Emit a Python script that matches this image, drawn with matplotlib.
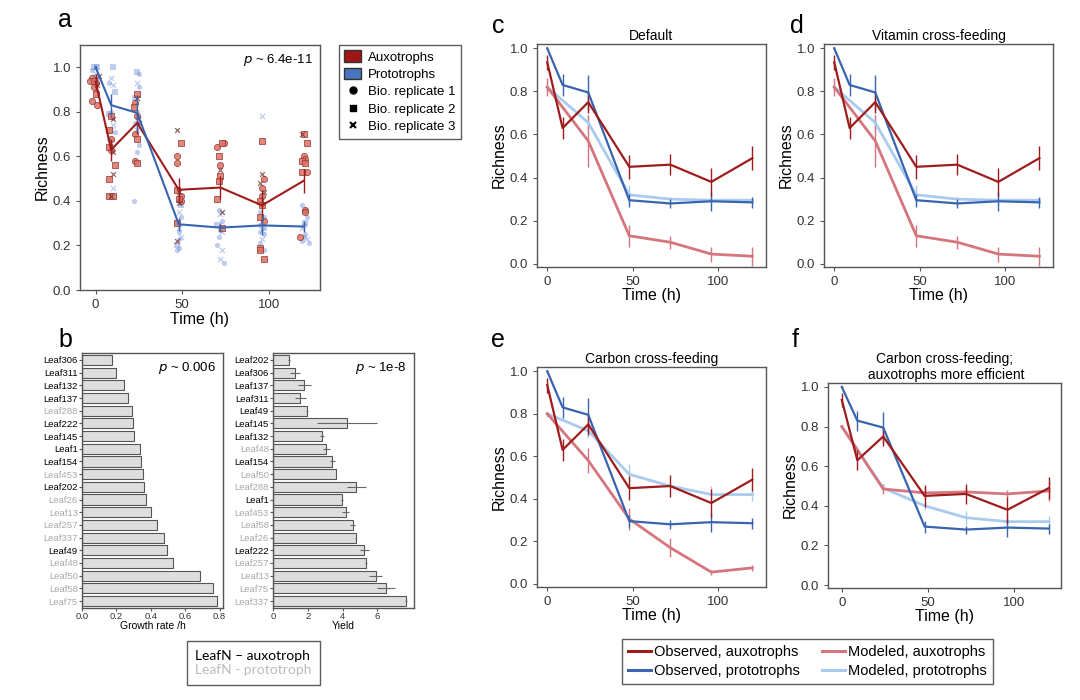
import numpy as np
import matplotlib.pyplot as plt
from matplotlib.lines import Line2D
from matplotlib.patches import Patch

plt.rcParams["font.family"] = ["Liberation Sans", "DejaVu Sans"]

# observed richness (mean +/- error) per time point
obs_time = [0, 9, 24, 48, 72, 96, 120]
obs_aux = [0.935, 0.63, 0.75, 0.45, 0.46, 0.38, 0.49]
obs_aux_err = [0.035, 0.05, 0.05, 0.055, 0.05, 0.065, 0.055]
obs_pro = [1.0, 0.83, 0.795, 0.295, 0.28, 0.29, 0.285]
obs_pro_err = [0.005, 0.05, 0.08, 0.03, 0.02, 0.045, 0.025]

# modeled richness for the four scenarios
model_time = [0, 24, 48, 72, 96, 120]
def_aux = [0.82, 0.57, 0.13, 0.10, 0.045, 0.035]
def_aux_err = [0.04, 0.12, 0.05, 0.03, 0.035, 0.045]
def_pro = [0.82, 0.655, 0.32, 0.30, 0.295, 0.295]
def_pro_err = [0.02, 0.04, 0.045, 0.01, 0.02, 0.01]
carb_aux = [0.80, 0.58, 0.305, 0.17, 0.055, 0.075]
carb_aux_err = [0.01, 0.06, 0.05, 0.045, 0.012, 0.015]
carb_pro = [0.80, 0.72, 0.515, 0.46, 0.42, 0.42]
carb_pro_err = [0.01, 0.035, 0.05, 0.01, 0.04, 0.03]
eff_aux = [0.80, 0.485, 0.465, 0.47, 0.46, 0.475]
eff_aux_err = [0.01, 0.025, 0.03, 0.02, 0.02, 0.05]
eff_pro = [0.80, 0.49, 0.40, 0.34, 0.32, 0.32]
eff_pro_err = [0.01, 0.02, 0.02, 0.035, 0.04, 0.03]

# individual samples in panel a (time incl. jitter, richness, replicate)
aux_t = [-2, -1, 0, -3, 1, 0, -2, 1, 2, -1,
         9, 10, 8, 9, 8, 9, 10, 11, 10, 8, 8, 9, 10,
         24, 24, 23, 22, 24, 25, 23, 24, 23, 24,
         47, 49, 47, 47, 47, 48, 49, 48, 49, 48, 47, 47,
         70, 73, 74, 71, 72, 72, 72, 71, 70, 73, 73,
         96, 96, 97, 95, 96, 97, 96, 95, 96, 95, 97, 95, 95, 97,
         119, 120, 122, 120, 121, 119, 121, 119, 122, 121, 121, 118]
aux_r = [0.95, 0.94, 0.93, 0.94, 0.92, 0.88, 0.85, 0.83, 0.96, 0.91,
         0.78, 0.77, 0.72, 0.68, 0.64, 0.63, 0.62, 0.56, 0.52, 0.50, 0.42, 0.42, 0.42,
         0.88, 0.86, 0.84, 0.82, 0.78, 0.75, 0.70, 0.68, 0.58, 0.57,
         0.72, 0.66, 0.60, 0.57, 0.45, 0.44, 0.42, 0.41, 0.40, 0.39, 0.30, 0.22,
         0.64, 0.66, 0.66, 0.60, 0.56, 0.54, 0.51, 0.49, 0.41, 0.35, 0.28,
         0.67, 0.52, 0.50, 0.48, 0.46, 0.44, 0.42, 0.40, 0.38, 0.33, 0.31, 0.19, 0.18, 0.14,
         0.70, 0.70, 0.66, 0.60, 0.59, 0.58, 0.57, 0.53, 0.53, 0.36, 0.35, 0.24]
aux_rep = ["o", "s", "o", "o", "x", "s", "o", "o", "x", "o",
           "s", "x", "s", "o", "s", "o", "x", "s", "x", "s", "s", "x", "s",
           "s", "x", "o", "s", "o", "x", "o", "s", "o", "s",
           "x", "s", "o", "o", "s", "x", "o", "s", "o", "x", "s", "x",
           "o", "s", "o", "s", "o", "x", "s", "s", "s", "x", "s",
           "s", "x", "o", "x", "o", "x", "o", "s", "s", "s", "o", "s", "s", "s",
           "x", "s", "s", "o", "o", "s", "s", "s", "o", "o", "o", "o"]
pro_t = [-1, 0, 1, -2, 0, -1, 1, 0,
         10, 9, 8, 10, 11, 9, 8, 10, 9, 11, 8, 9, 10,
         24, 25, 24, 25, 23, 24, 25, 23, 24, 25, 24, 22,
         48, 49, 48, 49, 47, 48, 48, 49, 48, 47, 48, 47,
         71, 72, 73, 70, 72, 73, 71, 70, 73, 72, 74,
         96, 95, 97, 96, 95, 97, 96, 95, 97, 96, 95, 97,
         119, 121, 120, 122, 121, 120, 119, 121, 120, 122, 119, 123]
pro_r = [1.0, 1.0, 1.0, 0.99, 0.97, 0.96, 0.95, 0.93,
         1.0, 0.95, 0.93, 0.92, 0.89, 0.80, 0.79, 0.74, 0.72, 0.71, 0.68, 0.66, 0.46,
         0.98, 0.97, 0.93, 0.91, 0.86, 0.80, 0.77, 0.75, 0.72, 0.65, 0.62, 0.40,
         0.41, 0.38, 0.35, 0.33, 0.30, 0.28, 0.26, 0.24, 0.23, 0.20, 0.19, 0.18,
         0.36, 0.34, 0.31, 0.29, 0.27, 0.26, 0.24, 0.20, 0.18, 0.14, 0.12,
         0.78, 0.35, 0.33, 0.31, 0.29, 0.28, 0.27, 0.26, 0.25, 0.23, 0.21, 0.18,
         0.38, 0.36, 0.35, 0.33, 0.30, 0.29, 0.28, 0.25, 0.24, 0.23, 0.22, 0.21]
pro_rep = ["s", "x", "s", "o", "x", "o", "o", "x",
           "s", "x", "o", "x", "s", "o", "s", "x", "x", "o", "o", "x", "x",
           "s", "o", "x", "o", "s", "o", "x", "o", "x", "o", "o", "o",
           "o", "s", "x", "o", "s", "x", "o", "x", "o", "s", "o", "o",
           "o", "x", "o", "s", "o", "x", "o", "o", "x", "x", "o",
           "x", "o", "o", "x", "o", "s", "x", "o", "o", "x", "o", "o",
           "o", "o", "x", "o", "s", "o", "x", "o", "o", "x", "o", "o"]

# panel b: growth rate and yield per strain
growth_strains = ["Leaf306", "Leaf311", "Leaf132", "Leaf137", "Leaf288", "Leaf222", "Leaf145",
                  "Leaf1", "Leaf154", "Leaf453", "Leaf202", "Leaf26", "Leaf13", "Leaf257",
                  "Leaf337", "Leaf49", "Leaf48", "Leaf50", "Leaf58", "Leaf75"]
growth_rate = [0.176, 0.20, 0.245, 0.27, 0.288, 0.298, 0.304, 0.34, 0.345, 0.357,
               0.363, 0.375, 0.402, 0.437, 0.476, 0.494, 0.53, 0.686, 0.76, 0.788]
yield_strains = ["Leaf202", "Leaf306", "Leaf137", "Leaf311", "Leaf49", "Leaf145", "Leaf132",
                 "Leaf48", "Leaf154", "Leaf50", "Leaf288", "Leaf1", "Leaf453", "Leaf58",
                 "Leaf26", "Leaf222", "Leaf257", "Leaf13", "Leaf75", "Leaf337"]
yield_val = [0.94, 1.26, 1.79, 1.57, 1.96, 4.25, 2.81, 3.06, 3.40, 3.64,
             4.79, 3.96, 4.19, 4.57, 4.75, 5.25, 5.36, 5.89, 6.49, 7.64]
yield_err = [0.05, 0.27, 0.37, 0.30, 0.05, 1.70, 0.10, 0.20, 0.15, 0.0,
             0.55, 0.05, 0.20, 0.15, 0.03, 0.25, 0.05, 0.35, 0.50, 0.05]
auxotrophs = ["Leaf306", "Leaf311", "Leaf132", "Leaf137", "Leaf222", "Leaf145",
              "Leaf1", "Leaf154", "Leaf202", "Leaf49"]

C_OBS_AUX = "#9e1c1c"
C_OBS_PRO = "#3864b0"
C_MOD_AUX = "#d5757d"
C_MOD_PRO = "#a9cbee"
GRAY_TXT = "#a8a8a8"

fig = plt.figure(figsize=(10.8, 7), dpi=100)


def frame(ax, labelsize=9.5):
    for s in ax.spines.values():
        s.set_color("#555555")
        s.set_linewidth(1.0)
    ax.tick_params(colors="#555555", labelcolor="#333333", length=3, width=0.8,
                   labelsize=labelsize)


# ---- a ----
ax = fig.add_axes([80 / 1080, 1 - 290 / 700, 240 / 1080, 245 / 700])
aux_t_arr, aux_r_arr, aux_rep_arr = np.array(aux_t), np.array(aux_r), np.array(aux_rep)
pro_t_arr, pro_r_arr, pro_rep_arr = np.array(pro_t), np.array(pro_r), np.array(pro_rep)
for m in ["o", "s", "x"]:
    sel = pro_rep_arr == m
    ax.scatter(pro_t_arr[sel], pro_r_arr[sel], marker=m, s=14, color="#6f8fd8",
               alpha=0.45, linewidths=0.9 if m == "x" else 0, zorder=2)
for m in ["o", "s", "x"]:
    sel = aux_rep_arr == m
    if m == "x":
        ax.scatter(aux_t_arr[sel], aux_r_arr[sel], marker="x", s=12, color="#7a3434",
                   linewidths=0.9, alpha=0.75, zorder=3)
    else:
        ax.scatter(aux_t_arr[sel], aux_r_arr[sel], marker=m, s=20, facecolor="#e0705f",
                   edgecolor="#8b3a3a", linewidths=0.6, alpha=0.85, zorder=3)
ax.errorbar(obs_time, obs_aux, yerr=obs_aux_err, color=C_OBS_AUX, lw=1.5, elinewidth=1.0, zorder=4)
ax.errorbar(obs_time, obs_pro, yerr=obs_pro_err, color=C_OBS_PRO, lw=1.5, elinewidth=1.0, zorder=4)
ax.set_xlim(-9, 129.5)
ax.set_ylim(0, 1.1)
ax.set_xticks([0, 50, 100])
ax.set_yticks(np.arange(0, 1.01, 0.2))
ax.yaxis.set_major_formatter(plt.FormatStrFormatter("%.1f"))
ax.set_xlabel("Time (h)", fontsize=11.5, labelpad=1)
ax.set_ylabel("Richness", fontsize=11.5, labelpad=2)
frame(ax)
ax.text(0.97, 0.94, r"$p$ ~ 6.4e-11", transform=ax.transAxes, ha="right", va="center", fontsize=9.5)
handles = [Patch(facecolor="#a01616", edgecolor="#333333", label="Auxotrophs"),
           Patch(facecolor="#4a74bb", edgecolor="#333333", label="Prototrophs"),
           Line2D([], [], marker="o", ls="none", color="black", markersize=5, label="Bio. replicate 1"),
           Line2D([], [], marker="s", ls="none", color="black", markersize=5, label="Bio. replicate 2"),
           Line2D([], [], marker="x", ls="none", color="black", markersize=5, mew=1.5, label="Bio. replicate 3")]
leg = fig.legend(handles=handles, loc="upper left", bbox_to_anchor=(339 / 1080, 1 - 45 / 700),
                 fontsize=9.5, frameon=True, fancybox=False, edgecolor="#333333",
                 handlelength=1.3, handleheight=1.0, handletextpad=0.5, labelspacing=0.3,
                 borderpad=0.4, borderaxespad=0)
leg.get_frame().set_linewidth(1.0)

# ---- b ----
for strains, vals, errs, xlim, ticks, fmt, xlabel, ptxt, left in [
        (growth_strains, growth_rate, None, 0.82, [0, 0.2, 0.4, 0.6, 0.8], "%.1f",
         "Growth rate /h", r"$p$ ~ 0.006", 82),
        (yield_strains, yield_val, yield_err, 8.1, [0, 2, 4, 6], "%d",
         "Yield", r"$p$ ~ 1e-8", 273)]:
    bx = fig.add_axes([left / 1080, 1 - 608 / 700, 141 / 1080, 255 / 700])
    ypos = np.arange(len(strains))
    bx.barh(ypos, vals, height=0.8, color="#dedede", edgecolor="#555555", linewidth=0.8)
    if errs is not None:
        bx.errorbar(vals, ypos, xerr=errs, fmt="none", ecolor="#666666", elinewidth=0.8)
    bx.set_xlim(0, xlim)
    bx.set_ylim(len(strains) - 0.45, -0.55)
    bx.set_yticks(ypos)
    bx.set_yticklabels(strains)
    bx.set_xticks(ticks)
    bx.xaxis.set_major_formatter(plt.FormatStrFormatter(fmt))
    frame(bx, labelsize=6.8)
    bx.tick_params(length=2, pad=1)
    for lab, s in zip(bx.get_yticklabels(), strains):
        lab.set_color("black" if s in auxotrophs else GRAY_TXT)
    bx.set_xlabel(xlabel, fontsize=7.5, labelpad=0)
    bx.text(0.95, 0.94, ptxt, transform=bx.transAxes, ha="right", va="center", fontsize=9.5)

leafn = fig.legend(handles=[Line2D([], [], ls="none"), Line2D([], [], ls="none")],
                   labels=["LeafN \u2013 auxotroph", "LeafN - prototroph"],
                   loc="center", bbox_to_anchor=(253.5 / 1080, 1 - 663 / 700),
                   prop={"family": ["Lato", "DejaVu Sans"], "size": 10},
                   handlelength=0, handletextpad=0, frameon=True, fancybox=False,
                   edgecolor="#333333", borderpad=0.6, labelspacing=0.2)
leafn.get_frame().set_linewidth(1.0)
leafn.get_texts()[1].set_color("#bbbbbb")

# ---- c-f ----
panels = [
    ([537, 44, 229, 223], "Default", def_aux, def_aux_err, def_pro, def_pro_err, (-6, 128)),
    ([824, 44, 229, 223], "Vitamin cross-feeding", def_aux, def_aux_err, def_pro, def_pro_err, (-6, 128)),
    ([537, 367, 229, 220], "Carbon cross-feeding", carb_aux, carb_aux_err, carb_pro, carb_pro_err, (-6, 128)),
    ([828, 383, 233, 205], "Carbon cross-feeding;\n auxotrophs more efficient",
     eff_aux, eff_aux_err, eff_pro, eff_pro_err, (-8, 127)),
]
for box, title, m_aux, m_aux_e, m_pro, m_pro_e, xl in panels:
    x0, y0, w, h = box
    px = fig.add_axes([x0 / 1080, 1 - (y0 + h) / 700, w / 1080, h / 700])
    px.errorbar(model_time, m_pro, yerr=m_pro_e, color=C_MOD_PRO, lw=2.0, elinewidth=1.0, zorder=2)
    px.errorbar(model_time, m_aux, yerr=m_aux_e, color=C_MOD_AUX, lw=2.0, elinewidth=1.0, zorder=2)
    px.errorbar(obs_time, obs_pro, yerr=obs_pro_err, color=C_OBS_PRO, lw=1.6, elinewidth=1.0, zorder=3)
    px.errorbar(obs_time, obs_aux, yerr=obs_aux_err, color=C_OBS_AUX, lw=1.6, elinewidth=1.0, zorder=3)
    px.set_xlim(*xl)
    px.set_ylim(-0.015, 1.02)
    px.set_xticks([0, 50, 100])
    px.set_yticks(np.arange(0, 1.01, 0.2))
    px.yaxis.set_major_formatter(plt.FormatStrFormatter("%.1f"))
    px.set_xlabel("Time (h)", fontsize=11.5, labelpad=0)
    px.set_ylabel("Richness", fontsize=11.5, labelpad=2)
    px.set_title(title, fontsize=10, pad=3)
    frame(px)

lines = [Line2D([], [], color=C_OBS_AUX, lw=2.2), Line2D([], [], color=C_OBS_PRO, lw=2.2),
         Line2D([], [], color=C_MOD_AUX, lw=2.2), Line2D([], [], color=C_MOD_PRO, lw=2.2)]
labels = ["Observed, auxotrophs", "Observed, prototrophs", "Modeled, auxotrophs", "Modeled, prototrophs"]
bleg = fig.legend(lines, labels, ncol=2, loc="center", bbox_to_anchor=(807.5 / 1080, 1 - 661.5 / 700),
                  fontsize=10.5, frameon=True, fancybox=False, edgecolor="#333333",
                  handlelength=1.6, handletextpad=0.2, columnspacing=1.5, labelspacing=0.3,
                  borderpad=0.4)
bleg.get_frame().set_linewidth(1.0)

# panel letters
for letter, x, y in [("a", 65, 20), ("b", 65, 340), ("c", 498, 26), ("d", 797, 26),
                     ("e", 498, 340), ("f", 795, 340)]:
    fig.text(x / 1080, 1 - y / 700, letter, fontsize=18, ha="center", va="center")

fig.savefig("out.png", dpi=100)
